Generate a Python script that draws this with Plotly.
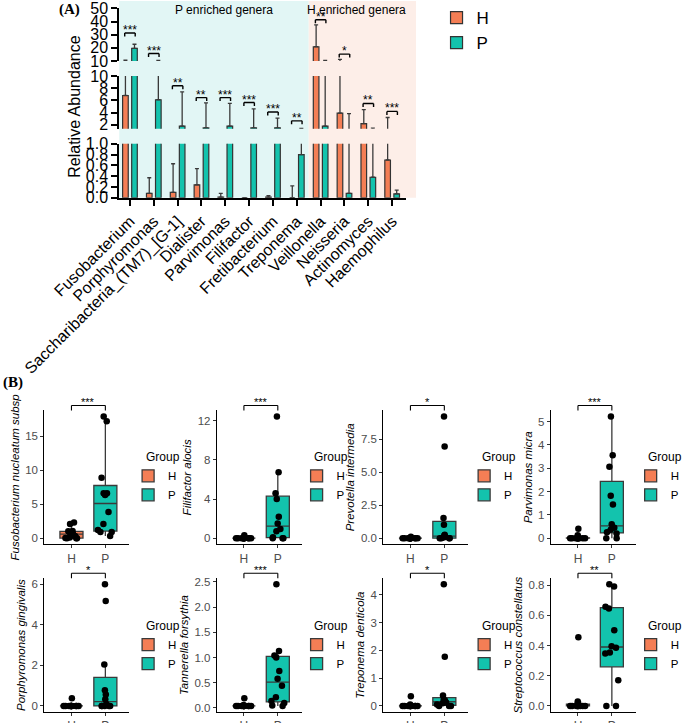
import plotly.graph_objects as go

W, H = 685, 723

# ---------------- Panel A data ----------------
genera = ["Fusobacterium", "Porphyromonas", "Saccharibacteria_(TM7)_[G-1]", "Dialister",
          "Parvimonas", "Filifactor", "Fretibacterium", "Treponema", "Veillonella",
          "Neisseria", "Actinomyces", "Haemophilus"]
h_mean = [6.8, 0.08, 0.10, 0.24, 0.01, 0.0, 0.01, 0.0, 20.8, 3.9, 2.2, 0.70]
h_upper = [10.5, 0.37, 0.63, 0.54, 0.08, 0.0, 0.04, 0.22, 37.5, 11.2, 4.5, 3.2]
p_mean = [19.6, 6.1, 1.8, 1.5, 1.8, 1.5, 1.5, 0.80, 1.8, 0.08, 0.38, 0.07]
p_upper = [22.7, 10.3, 7.4, 5.6, 5.5, 4.6, 3.1, 1.42, 10.3, 3.85, 1.45, 0.14]
sig_labels = ["***", "***", "**", "**", "***", "***", "***", "**", "**", "*", "**", "***"]
sig_height = [31.3, 15.6, 8.4, 6.45, 6.45, 5.65, 4.1, 2.65, 41.3, 15.2, 5.5, 4.2]

seg_ranges = [[0, 1], [1.35, 10], [10, 50.3]]
seg_ticks = [[0, 0.2, 0.4, 0.6, 0.8, 1.0], [2, 4, 6, 8, 10], [10, 20, 30, 40, 50]]
seg_tickfmt = [".1f", "d", "d"]

# ---------------- Panel B data ----------------
species = ["Fusobacterium nucleatum subsp", "Filifactor alocis", "Prevotella intermedia",
           "Parvimonas micra", "Porphyromonas gingivalis", "Tannerella forsythia",
           "Treponema denticola", "Streptococcus constellatus"]
b_sig = ["***", "***", "*", "***", "*", "***", "*", "**"]
h_vals = [
    [0, 0, 0, 0.02, 0.1, 0.3, 0.6, 0.7, 0.8, 1.0, 1.05, 2.1, 2.3],
    [0] * 11 + [0.1, 0.3],
    [0] * 12 + [0.1],
    [0] * 10 + [0.05, 0.12, 0.4],
    [0] * 12 + [0.38],
    [0.04] * 11 + [0.06, 0.19],
    [0] * 11 + [0.05, 0.35],
    [0] * 9 + [0.01, 0.02, 0.03, 0.455],
]
p_vals = [
    [0.3, 0.9, 0.9, 1.2, 2.1, 3.85, 6.35, 6.6, 6.6, 8.9, 17.2, 17.9],
    [0, 0, 0, 0.1, 0.7, 0.95, 1.5, 2.2, 4.0, 4.6, 6.75, 12.45],
    [0, 0, 0, 0, 0.05, 0.1, 0.2, 0.25, 1.02, 1.53, 6.95, 9.23],
    [0, 0, 0.2, 0.25, 0.36, 0.45, 0.6, 1.44, 1.82, 3.06, 3.56, 5.22],
    [0, 0, 0, 0, 0, 0.1, 0.33, 0.56, 0.77, 2.04, 5.17, 6.0],
    [0.04, 0.05, 0.1, 0.14, 0.21, 0.44, 0.58, 0.73, 1.0, 1.04, 1.13, 2.45],
    [0, 0, 0, 0.05, 0.1, 0.12, 0.18, 0.2, 0.22, 0.38, 1.77, 4.38],
    [0, 0, 0.17, 0.347, 0.354, 0.385, 0.395, 0.5, 0.645, 0.657, 0.79, 0.805],
]
b_ticks = [[0, 5, 10, 15], [0, 4, 8, 12], [0, 2.5, 5, 7.5], [0, 1, 2, 3, 4, 5],
           [0, 2, 4, 6], [0, 0.5, 1, 1.5, 2, 2.5], [0, 1, 2, 3, 4], [0, 0.2, 0.4, 0.6, 0.8]]
b_tickfmt = ["d", "d", ".1f", "d", "d", ".1f", "d", ".1f"]
groups = ["H", "P"]

ORANGE = "#F47E55"
TEAL = "#13C3AD"
BG_P = "#E2F6F5"
BG_H = "#FDEEE8"
FONT = "Liberation Sans, Arial, sans-serif"


def fx(px):
    return px / W


def fy(py):
    return 1 - py / H


fig = go.Figure()

# ---------------- Panel A ----------------
x_dom_px = (121, 412)
x_rng = [-0.45, 11.58]
seg_dom_px = [(143, 197), (75, 128), (7, 60)]
ynames = ["y", "y2", "y3"]
h_err = [u - m for u, m in zip(h_upper, h_mean)]
p_err = [u - m for u, m in zip(p_upper, p_mean)]

for s in range(3):
    for g, mean, err, col in (("H", h_mean, h_err, ORANGE), ("P", p_mean, p_err, TEAL)):
        fig.add_trace(go.Bar(
            x=genera, y=mean, name=g, xaxis="x", yaxis=ynames[s],
            marker=dict(color=col, line=dict(color="#333333", width=1.2)),
            error_y=dict(type="data", symmetric=False, array=err, arrayminus=[0] * len(err),
                         color="#3a3a3a", thickness=1.3, width=2),
            showlegend=(s == 0), legend="legend",
        ))


def xmap_paper(v):
    return fx(x_dom_px[0] + (v - x_rng[0]) / (x_rng[1] - x_rng[0]) * (x_dom_px[1] - x_dom_px[0]))


# background shading
fig.add_shape(type="rect", xref="paper", yref="paper", x0=fx(x_dom_px[0]), x1=xmap_paper(7.5),
              y0=fy(197), y1=1, fillcolor=BG_P, line_width=0, layer="below")
fig.add_shape(type="rect", xref="paper", yref="paper", x0=xmap_paper(7.5), x1=xmap_paper(12.0),
              y0=fy(197), y1=1, fillcolor=BG_H, line_width=0, layer="below")

layout_axes = {}
layout_axes["xaxis"] = dict(domain=[fx(x_dom_px[0]), fx(x_dom_px[1])], range=x_rng, anchor="y",
                            showline=True, linecolor="black", linewidth=2, ticks="outside",
                            ticklen=6, tickwidth=2, tickcolor="black", tickangle=-45,
                            tickfont=dict(size=16, color="black", family=FONT), showgrid=False,
                            automargin=False, ticklabeloverflow="allow")
for s in range(3):
    key = "yaxis" if s == 0 else f"yaxis{s + 1}"
    d0, d1 = seg_dom_px[s]
    layout_axes[key] = dict(domain=[fy(d1), fy(d0)], range=seg_ranges[s], anchor="x",
                            showline=True, linecolor="black", linewidth=2, ticks="outside",
                            ticklen=6, tickwidth=2, tickcolor="black",
                            tickvals=seg_ticks[s], tickformat=seg_tickfmt[s],
                            tickfont=dict(size=16, color="black", family=FONT),
                            showgrid=False, zeroline=False, automargin=False,
                            ticklabeloverflow="allow")

annotations = []
shapes_br = []
for i, (lab, hgt) in enumerate(zip(sig_labels, sig_height)):
    s = 2 if hgt > 10 else 1
    lo, hi = seg_ranges[s]
    d0, d1 = seg_dom_px[s]
    tick = 3.5 / ((d1 - d0) / (hi - lo))
    yr = ynames[s]
    for (a0, b0, a1, b1) in ((i - 0.22, hgt - tick, i - 0.22, hgt), (i - 0.22, hgt, i + 0.22, hgt),
                             (i + 0.22, hgt, i + 0.22, hgt - tick)):
        shapes_br.append(dict(type="line", xref="x", yref=yr, x0=a0, y0=b0, x1=a1, y1=b1,
                              line=dict(color="black", width=1.4)))
    annotations.append(dict(x=i, y=hgt, xref="x", yref=yr, text=lab, showarrow=False,
                            xanchor="center", yanchor="bottom", yshift=-6,
                            font=dict(size=12, color="black", family=FONT)))


def paper_text(px, py, text, size, family=FONT, angle=0, xanchor="center"):
    annotations.append(dict(x=fx(px), y=fy(py), xref="paper", yref="paper", text=text,
                            textangle=angle, showarrow=False, xanchor=xanchor, yanchor="middle",
                            font=dict(size=size, color="black", family=family)))


paper_text(76, 106, "Relative Abundance", 16, angle=-90)
paper_text(227, 9, "P enriched genera", 12)
paper_text(362, 9, "H enriched genera", 12)
paper_text(71, 9, "<b>(A)</b>", 15, family="Liberation Serif, serif")
paper_text(13, 382, "<b>(B)</b>", 15, family="Liberation Serif, serif")

# ---------------- Panel B ----------------
col_px = [(45, 131), (220, 306), (389, 475), (559, 645)]
row_px = [(410, 544), (578, 712)]
legend_x_px = [130, 301, 471, 640]
group_x_px = [146, 317, 487, 656]
legend_y_px = [461, 630]
group_y_px = [457, 626]
bx_rng = [-0.8, 1.7]

legends = {}
for k in range(8):
    r, c = divmod(k, 4)
    xa = f"x{k + 2}"
    ya = f"y{k + 4}"
    lg = f"legend{k + 2}"
    for g, vals, col in (("H", h_vals[k], ORANGE), ("P", p_vals[k], TEAL)):
        fig.add_trace(go.Box(
            x=[g] * len(vals), y=vals, name=g, xaxis=xa, yaxis=ya, legend=lg,
            fillcolor=col, line=dict(color="#3a3a3a", width=1.3), width=0.68,
            boxpoints="all", jitter=0.8, pointpos=0, whiskerwidth=0,
            marker=dict(color="black", size=6.5, line=dict(width=0)),
        ))
    allv = h_vals[k] + p_vals[k]
    vmin, vmax = min(allv), max(allv)
    span = vmax - vmin
    yr = [vmin - 0.05 * span, vmax + 0.05 * span]
    cx0, cx1 = col_px[c]
    ry0, ry1 = row_px[r]
    layout_axes[f"xaxis{k + 2}"] = dict(domain=[fx(cx0), fx(cx1)], range=bx_rng, anchor=ya,
                                        type="category", categoryorder="array", categoryarray=groups,
                                        showline=True, linecolor="black", linewidth=1.1,
                                        ticks="outside", ticklen=3, tickcolor="#333333",
                                        tickfont=dict(size=12, color="#4D4D4D", family=FONT),
                                        showgrid=False, zeroline=False, automargin=False,
                                        ticklabeloverflow="allow")
    layout_axes[f"yaxis{k + 4}"] = dict(domain=[fy(ry1), fy(ry0)], range=yr, anchor=xa,
                                        showline=True, linecolor="black", linewidth=1.1,
                                        ticks="outside", ticklen=3, tickcolor="#333333",
                                        tickvals=b_ticks[k], tickformat=b_tickfmt[k],
                                        tickfont=dict(size=11.5, color="#4D4D4D", family=FONT),
                                        title=dict(text=f"<i>{species[k]}</i>", standoff=3,
                                                   font=dict(size=11.5, color="black", family=FONT)),
                                        showgrid=False, zeroline=False, automargin=False,
                                        ticklabeloverflow="allow")
    legends[lg] = dict(x=fx(legend_x_px[c]), y=fy(legend_y_px[r]), xanchor="left", yanchor="top",
                       font=dict(size=11.5, color="black", family=FONT), bgcolor="rgba(0,0,0,0)",
                       tracegroupgap=0)
    paper_text(group_x_px[c], group_y_px[r], "Group", 12, xanchor="left")
    # significance bracket just above the panel
    ytop = fy(ry0 - 5)
    ybot = fy(ry0)
    for (a0, b0, a1, b1) in ((0, ybot, 0, ytop), (0, ytop, 1, ytop), (1, ytop, 1, ybot)):
        shapes_br.append(dict(type="line", xref=xa, yref="paper", x0=a0, y0=b0, x1=a1, y1=b1,
                              line=dict(color="black", width=1.1)))
    annotations.append(dict(x=0.5, y=ytop, xref=xa, yref="paper", text=b_sig[k], showarrow=False,
                            xanchor="center", yanchor="bottom", yshift=-5,
                            font=dict(size=11, color="black", family=FONT)))

fig.update_layout(
    width=W, height=H, autosize=False, margin=dict(l=0, r=0, t=0, b=0),
    paper_bgcolor="white", plot_bgcolor="rgba(0,0,0,0)",
    barmode="group", bargap=0.24, bargroupgap=0.38,
    font=dict(family=FONT),
    legend=dict(x=fx(443), y=fy(-1), xanchor="left", yanchor="top", tracegroupgap=0,
                font=dict(size=17, color="black", family=FONT), bgcolor="rgba(0,0,0,0)"),
    annotations=annotations,
    **layout_axes,
    **legends,
)
for sh in shapes_br:
    fig.add_shape(**sh)

fig.write_html("out.html", config={"displayModeBar": False},
               post_script="document.body.style.margin='0px';document.body.style.overflow='hidden';")
